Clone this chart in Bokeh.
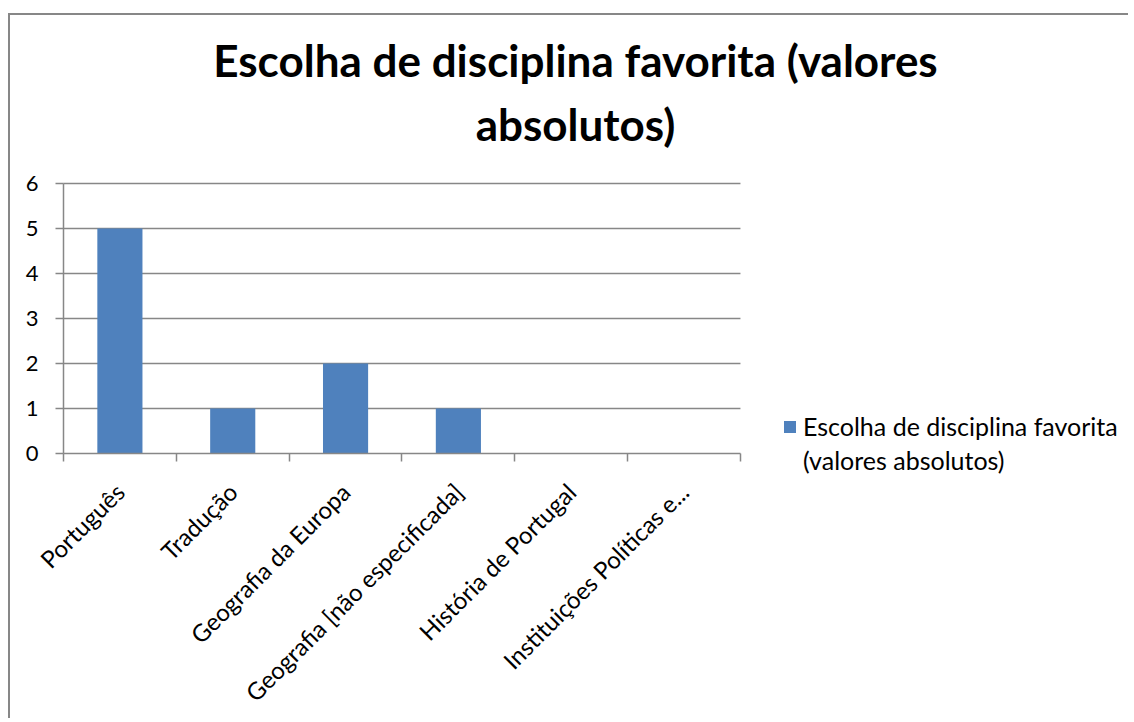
import math
from bokeh.plotting import figure
from bokeh.models import (Range1d, FixedTicker, Legend, LegendItem, ColumnDataSource, Title)
from bokeh.embed import file_html
from bokeh.resources import INLINE

title_line_1 = "Escolha de disciplina favorita (valores"
title_line_2 = "absolutos)"
categories = ["Português", "Tradução", "Geografia da Europa",
              "Geografia [não especificada]", "História de Portugal",
              "Instituições Políticas e..."]
values = [5, 1, 2, 1, 0, 0]
y_ticks = [0, 1, 2, 3, 4, 5, 6]
series_name_1 = "Escolha de disciplina favorita"
series_name_2 = "(valores absolutos)"

FONT = "Lato"
GRAY = "#878787"
BAR = "#4F81BD"

n = len(categories)
xs = [i + 0.5 for i in range(n)]
src = ColumnDataSource(dict(x=xs, top=values))
grid_src = ColumnDataSource(dict(y=y_ticks[1:]))

p = figure(width=1120, height=705, output_backend="svg", toolbar_location=None,
           x_range=Range1d(-0.381, 9.457), y_range=Range1d(-5.756, 6.289),
           min_border_left=10, min_border_right=0, min_border_top=155,
           min_border_bottom=8, title=None)
p.styles = {"border-left": f"2px solid {GRAY}", "border-top": f"2px solid {GRAY}",
            "margin-top": "13px", "margin-left": "8px"}
p.outline_line_color = None
p.background_fill_color = "white"
p.border_fill_color = "white"
p.xgrid.visible = False
p.ygrid.visible = False

t2 = Title(text=title_line_2, text_font=FONT, text_font_size="44px", text_font_style="bold",
           align="center", text_color="black", standoff=42)
t1 = Title(text=title_line_1, text_font=FONT, text_font_size="44px", text_font_style="bold",
           align="center", text_color="black", standoff=-22)
p.add_layout(t2, "above")
p.add_layout(t1, "above")

# horizontal gridlines over the category span
p.segment(x0=0, x1=n, y0="y", y1="y", source=grid_src, line_color=GRAY, line_width=1.5)

r = p.vbar(x="x", top="top", width=0.4, bottom=0, source=src,
           fill_color=BAR, line_color=None)
dummy = p.vbar(x=[0.5], top=[0], width=0.0, fill_alpha=0, line_alpha=0)

# X axis at y=0
xa = p.xaxis[0]
xa.fixed_location = 0
xa.bounds = (0, n)
xa.ticker = FixedTicker(ticks=xs, minor_ticks=list(range(n + 1)))
xa.major_label_overrides = {x: c for x, c in zip(xs, categories)}
xa.major_tick_line_color = None
xa.minor_tick_out = 8
xa.minor_tick_in = 0
xa.minor_tick_line_color = GRAY
xa.minor_tick_line_width = 1.5
xa.axis_line_color = GRAY
xa.axis_line_width = 1.5
xa.major_label_orientation = math.pi / 4
xa.major_label_standoff = 26
xa.major_label_text_font = FONT
xa.major_label_text_font_size = "24px"
xa.major_label_text_color = "black"

# Y axis at x=0
ya = p.yaxis[0]
ya.fixed_location = 0
ya.bounds = (0, 6)
ya.ticker = FixedTicker(ticks=y_ticks)
ya.minor_tick_line_color = None
ya.major_tick_out = 8
ya.major_tick_in = 0
ya.major_tick_line_color = GRAY
ya.major_tick_line_width = 1.5
ya.axis_line_color = GRAY
ya.axis_line_width = 1.5
ya.major_label_standoff = 17
ya.major_label_text_font = FONT
ya.major_label_text_font_size = "22px"
ya.major_label_text_color = "black"

legend = Legend(items=[LegendItem(label=series_name_1, renderers=[r]),
                       LegendItem(label=series_name_2, renderers=[dummy])],
                location=(762, 237), padding=0, margin=0, spacing=4,
                glyph_width=15, glyph_height=15, label_standoff=6,
                border_line_color=None, background_fill_alpha=0,
                label_text_font=FONT, label_text_font_size="25px",
                label_text_color="black")
p.add_layout(legend, "center")

open("out.html", "w").write(file_html(p, INLINE))
